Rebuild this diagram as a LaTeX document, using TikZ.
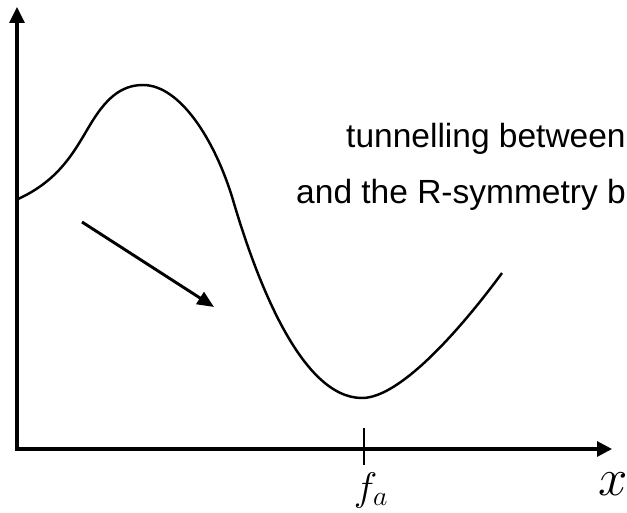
\RequirePackage{fix-cm}
\documentclass[tikz,border=0pt]{standalone}
\usepackage{fontspec}
\newfontfamily\notefont{Liberation Sans}
\usetikzlibrary{arrows.meta}
\tikzset{
  axis/.style={{Triangle[length=0.48cm,width=0.45cm]}-{Triangle[length=0.45cm,width=0.45cm]},line width=2.6pt},
  flow/.style={-{Triangle[length=0.5cm,width=0.42cm]},line width=2.5pt},
  potential/.style={line width=2.1pt},
  tickmark/.style={line width=2.1pt},
  note/.style={anchor=base west,inner sep=0pt,font=\notefont\fontsize{28.6}{34}\selectfont},
  mathlbl/.style={anchor=base,inner sep=0pt}
}
\begin{document}
\begin{tikzpicture}[x=0.03cm,y=-0.03cm]
  \clip (0,0) rectangle (627,512);
  % axes
  \coordinate (ytop) at (17,7);
  \coordinate (origin) at (17,449);
  \coordinate (xend) at (612,449);
  \draw[axis] (ytop) -- (origin) -- (xend);
  % tick at f_a
  \coordinate (tickT) at (364,428);
  \coordinate (tickB) at (364,465);
  \draw[tickmark] (tickT) -- (tickB);
  \node[mathlbl,font=\fontsize{34}{40}\selectfont] (falbl) at (371,500) {$f_a$};
  \node[mathlbl,font=\fontsize{45}{54}\selectfont] (xlbl) at (613,495) {$x$};
  % potential
  \coordinate (start) at (18,199);
  \coordinate (bend) at (90,125);
  \coordinate (peak) at (143,85);
  \coordinate (slope) at (233,200);
  \coordinate (valley) at (362,398);
  \coordinate (stop) at (502,273);
  \draw[potential] (start) .. controls (60,180) and (75,150) .. (bend)
    .. controls (105,100) and (120,85) .. (peak)
    .. controls (180,85) and (215,140) .. (slope)
    .. controls (255,275) and (300,398) .. (valley)
    .. controls (400,398) and (460,330) .. (stop);
  % rolling direction
  \coordinate (arrS) at (82,222);
  \coordinate (arrE) at (214,307);
  \draw[flow] (arrS) -- (arrE);
  % text
  \node[note] (line1) at (346,148) {tunnelling between};
  \node[note] (line2) at (296,203) {and the R-symmetry b};
\end{tikzpicture}
\end{document}
